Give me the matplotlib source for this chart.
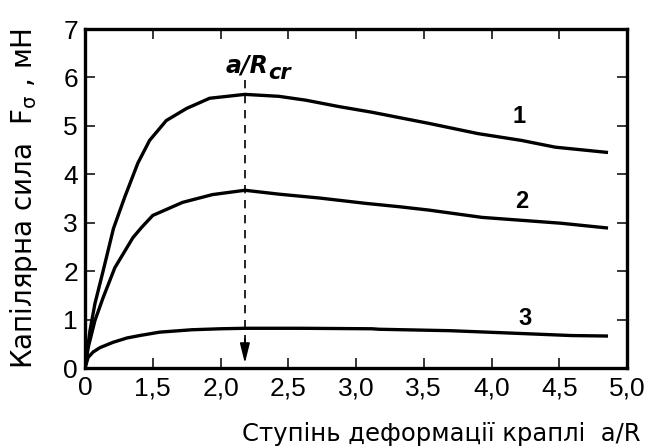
import numpy as np
import matplotlib
matplotlib.use("Agg")
import matplotlib.pyplot as plt

plt.rcParams['font.family'] = ['Liberation Sans', 'DejaVu Sans']
plt.rcParams['mathtext.fontset'] = 'custom'
plt.rcParams['mathtext.rm'] = 'DejaVu Sans'
plt.rcParams['mathtext.it'] = 'DejaVu Sans:italic'
plt.rcParams['mathtext.bf'] = 'DejaVu Sans:bold'

# curve 1
x1 = [0, 0.11, 0.22, 0.40, 0.63, 0.88, 1.17, 1.43, 1.60, 1.75, 1.92, 2.18,
      2.43, 2.63, 2.87, 3.12, 3.32, 3.54, 3.90, 4.22, 4.47, 4.86]
y1 = [0, 0.77, 1.33, 2.00, 2.88, 3.53, 4.23, 4.70, 5.11, 5.36, 5.57, 5.65,
      5.61, 5.53, 5.40, 5.28, 5.17, 5.05, 4.84, 4.70, 4.56, 4.45]
# curve 2
x2 = [0, 0.07, 0.22, 0.40, 0.66, 1.06, 1.25, 1.50, 1.72, 1.94, 2.18,
      2.43, 2.73, 3.07, 3.32, 3.54, 3.93, 4.22, 4.51, 4.86]
y2 = [0, 0.42, 0.98, 1.45, 2.07, 2.69, 2.90, 3.15, 3.42, 3.58, 3.67,
      3.59, 3.51, 3.40, 3.33, 3.26, 3.11, 3.05, 2.99, 2.89]
# curve 3
x3 = [0, 0.07, 0.18, 0.33, 0.62, 0.93, 1.21, 1.55, 1.79, 2.00, 2.18,
      2.60, 3.12, 3.17, 3.70, 4.15, 4.59, 4.86]
y3 = [0, 0.22, 0.33, 0.42, 0.53, 0.62, 0.67, 0.74, 0.79, 0.81, 0.82,
      0.82, 0.81, 0.80, 0.77, 0.72, 0.67, 0.66]

x_cr = 2.18
xticks = [0, 1.5, 2.0, 2.5, 3.0, 3.5, 4.0, 4.5, 5.0]
xticklabels = ['0', '1,5', '2,0', '2,5', '3,0', '3,5', '4,0', '4,5', '5,0']
yticks = [0, 1, 2, 3, 4, 5, 6, 7]


# axis is compressed between 0 and 1.5 (one tick step instead of three)
def fwd(x):
    x = np.asarray(x, dtype=float)
    return np.where(x < 1.5, 1.0 + x / 3.0, x)


def inv(p):
    p = np.asarray(p, dtype=float)
    return np.where(p < 1.5, (p - 1.0) * 3.0, p)


fig = plt.figure(figsize=(6.45, 4.47), dpi=100)
ax = fig.add_axes([85 / 645, 1 - 368 / 447, 542 / 645, 339 / 447])
ax.set_xscale('function', functions=(fwd, inv))

lw = 2.4
ax.plot(x1, y1, color='black', lw=lw, solid_capstyle='butt')
ax.plot(x2, y2, color='black', lw=lw, solid_capstyle='butt')
ax.plot(x3, y3, color='black', lw=lw, solid_capstyle='butt')

# critical deformation marker
ax.plot([x_cr, x_cr], [5.95, 0.45], color='black', lw=1.2, dashes=(5, 4))
ax.annotate('', xy=(x_cr, 0.1), xytext=(x_cr, 0.6),
            arrowprops=dict(arrowstyle='-|>,head_length=0.6,head_width=0.15',
                            color='black', lw=1.2, mutation_scale=20,
                            shrinkA=0, shrinkB=0))
ax.annotate('a/R', xy=(x_cr, 6.1), xytext=(-14, 0), textcoords='offset points',
            ha='left', va='baseline', fontsize=17, fontweight='bold',
            fontstyle='italic', family='DejaVu Sans')
ax.annotate('cr', xy=(x_cr, 6.1), xytext=(16.5, -4.8), textcoords='offset points',
            ha='left', va='baseline', fontsize=15, fontweight='bold',
            fontstyle='italic', family='DejaVu Sans')

ax.text(4.2, 5.05, '1', fontsize=17, fontweight='bold', ha='center', va='baseline')
ax.text(4.22, 3.3, '2', fontsize=17, fontweight='bold', ha='center', va='baseline')
ax.text(4.25, 0.88, '3', fontsize=17, fontweight='bold', ha='center', va='baseline')

ax.set_xlim(0, 5.0)
ax.set_ylim(0, 7)
ax.set_xticks(xticks)
ax.set_xticklabels(xticklabels)
ax.set_yticks(yticks)
ax.minorticks_off()
ax.tick_params(direction='in', length=7, width=1.1, labelsize=19,
               top=True, right=True)
ax.tick_params(axis='x', pad=6)
ax.tick_params(axis='y', pad=5)
for sp in ax.spines.values():
    sp.set_linewidth(2.4)

fig.text(32 / 645, 1 - 198 / 447, r'Капілярна сила  F$_{\mathrm{\sigma}}$ , мН',
         rotation=90, rotation_mode='anchor', ha='center', va='baseline',
         fontsize=20, family='DejaVu Sans')
fig.text(640 / 645, 1 - 441 / 447, 'Ступінь деформації краплі  a/R',
         ha='right', va='baseline', fontsize=17.5, family='DejaVu Sans')

fig.savefig('out.png', dpi=100)
